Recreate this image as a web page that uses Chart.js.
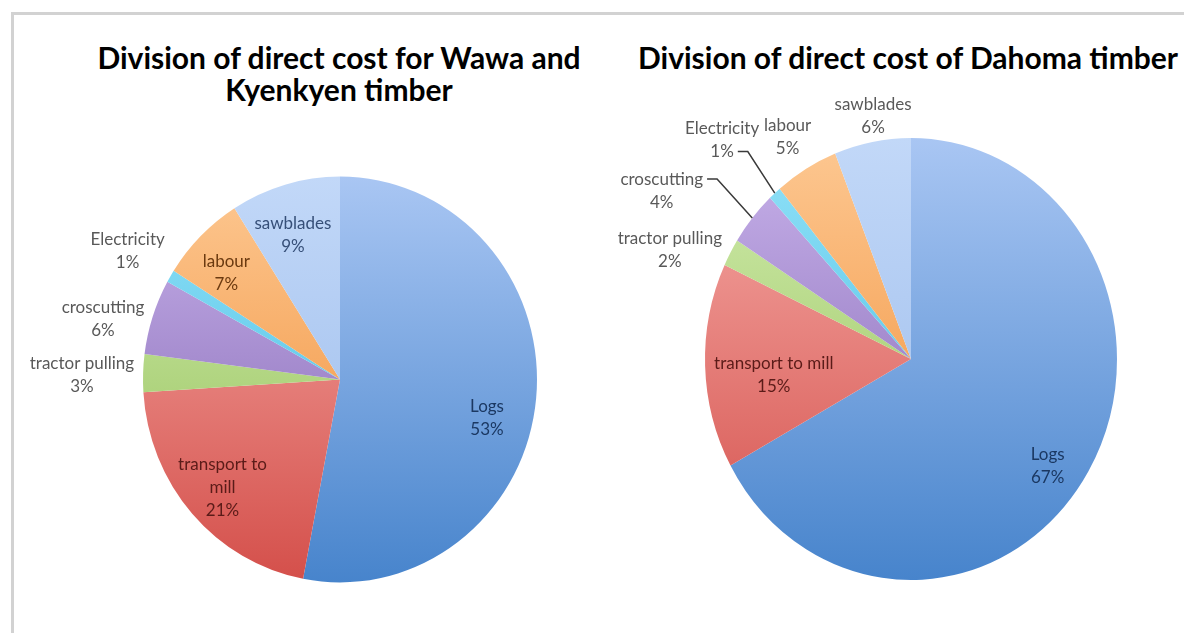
<!DOCTYPE html>
<html>
<head>
<meta charset="utf-8">
<script src="https://cdn.jsdelivr.net/npm/chart.js@4.4.0/dist/chart.umd.min.js"></script>
<style>
body{margin:0;background:#fff;width:1184px;height:633px;overflow:hidden;position:relative;font-family:Lato,sans-serif}
.frame{position:absolute;left:11px;top:12px;width:1200px;height:700px;border-top:3px solid #d2d2d2;border-left:3px solid #d2d2d2}
.title{position:absolute;font-weight:bold;font-size:30px;color:#000;text-align:center;line-height:32px;white-space:nowrap}
#t1{left:39px;width:600px;top:41px}
#t2{left:608px;width:600px;top:41px}
canvas{position:absolute;top:0}
#c1{left:0}
#c2{left:592px}
</style>
</head>
<body>
<div class="frame"></div>
<div class="title" id="t1">Division of direct cost for Wawa and<br>Kyenkyen timber</div>
<div class="title" id="t2">Division of direct cost of Dahoma timber</div>
<canvas id="c1" width="592" height="633"></canvas>
<canvas id="c2" width="592" height="633"></canvas>
<script>
// ---- data ----
const wawaCategories = ['Logs', 'transport to\nmill', 'tractor pulling', 'croscutting', 'Electricity', 'labour', 'sawblades'];
const wawaValues = [53, 21, 3, 6, 1, 7, 9];

const dahomaCategories = ['Logs', 'transport to mill', 'tractor pulling', 'croscutting', 'Electricity', 'labour', 'sawblades'];
const dahomaValues = [67, 15, 2, 4, 1, 5, 6];

// slice colours, light at top of the pie, darker at the bottom
const colorsTop = ['#a9c6f3', '#f6aca8', '#d3edb0', '#c9b3eb', '#92e2f8', '#fdc892', '#c2d8f8'];
const colorsBottom = ['#4784cc', '#d44f4a', '#8fbd52', '#7c5fae', '#3db6df', '#ef892f', '#98b9ea'];

// label layout (radius factor, angle shift in degrees)
const wawaLabelRadius = [0.77, 0.80, 1.31, 1.24, 1.25, 0.78, 0.75];
const wawaLabelShift = [8.9, -0.4, -0.8, -4, -0.2, -2.7, -2.4];
const wawaLabelColors = ['#1b3862', '#5a1b18', '#595959', '#595959', '#595959', '#6b3a10', '#364f78'];

const dahomaLabelRadius = [0.82, 0.67, 1.27, 1.43, 1.35, 1.17, 1.115];
const dahomaLabelShift = [5.4, -4.3, -6, -7.4, -1.4, -0.2, 1.3];
const dahomaLabelColors = ['#1b3862', '#5a1b18', '#595959', '#595959', '#595959', '#595959', '#595959'];
const dahomaLeader = [null, null, null, 0, 1, null, null];

// vertical gradient over the whole pie, picked per slice
const sliceFill = (c) => {
  const i = c.dataIndex;
  const chart = c.chart;
  const area = chart.chartArea;
  if (!area) return colorsBottom[i];
  const g = chart.ctx.createLinearGradient(0, area.top, 0, area.bottom);
  g.addColorStop(0, colorsTop[i]);
  g.addColorStop(1, colorsBottom[i]);
  return g;
};

// squash the circle a little into the ellipse seen in the picture
const pieShape = {
  id: 'pieShape',
  beforeDatasetsDraw(chart, args, opts) {
    const arc = chart.getDatasetMeta(0).data[0];
    const ctx = chart.ctx;
    ctx.save();
    ctx.translate(arc.x, arc.y);
    ctx.scale(1, opts.stretch);
    ctx.translate(-arc.x, -arc.y);
  },
  afterDatasetsDraw(chart) {
    chart.ctx.restore();
  }
};

const sliceLabels = {
  id: 'sliceLabels',
  afterDraw(chart, args, opts) {
    const ctx = chart.ctx;
    const arcs = chart.getDatasetMeta(0).data;
    const values = chart.data.datasets[0].data;
    const total = values.reduce((a, b) => a + b, 0);
    const st = chart.options.plugins.pieShape.stretch;
    ctx.save();
    ctx.font = '17px Lato';
    ctx.textAlign = 'center';
    ctx.textBaseline = 'middle';
    arcs.forEach((arc, i) => {
      const mid = (arc.startAngle + arc.endAngle) / 2;
      const a = mid + opts.shift[i] * Math.PI / 180;
      const r = arc.outerRadius * opts.radius[i];
      const x = arc.x + Math.cos(a) * r;
      const y = arc.y + Math.sin(a) * r * st;
      const lines = chart.data.labels[i].split('\n').concat(Math.round(values[i] / total * 100) + '%');
      const lh = 23;
      const y0 = y - (lines.length - 1) * lh / 2;
      ctx.fillStyle = opts.colors[i];
      lines.forEach((t, k) => ctx.fillText(t, x, y0 + k * lh));
      const lead = opts.leader ? opts.leader[i] : null;
      if (lead !== null && lead !== undefined) {
        const w = ctx.measureText(lines[lead]).width;
        const sx = x + w / 2 + 4, sy = y0 + lead * lh;
        const ex = arc.x + Math.cos(mid) * arc.outerRadius;
        const ey = arc.y + Math.sin(mid) * arc.outerRadius * st;
        ctx.beginPath();
        ctx.moveTo(sx, sy);
        ctx.lineTo(sx + 10, sy);
        ctx.lineTo(ex, ey);
        ctx.strokeStyle = '#3a3a3a';
        ctx.lineWidth = 1.5;
        ctx.stroke();
      }
    });
    ctx.restore();
  }
};

function makePie(id, labels, values, pad, stretch, lab) {
  return new Chart(document.getElementById(id), {
    type: 'pie',
    data: {
      labels: labels,
      datasets: [{
        data: values,
        backgroundColor: sliceFill,
        borderWidth: 0,
        hoverOffset: 0
      }]
    },
    options: {
      responsive: false,
      animation: false,
      layout: { padding: pad },
      plugins: {
        legend: { display: false },
        tooltip: { enabled: false },
        title: { display: false },
        pieShape: { stretch: stretch },
        sliceLabels: lab
      }
    },
    plugins: [pieShape, sliceLabels]
  });
}

makePie('c1', wawaCategories, wawaValues,
  { left: 143, right: 55, top: 182.5, bottom: 56.5 }, 1.03,
  { radius: wawaLabelRadius, shift: wawaLabelShift, colors: wawaLabelColors, leader: null });

makePie('c2', dahomaCategories, dahomaValues,
  { left: 113, right: 67, top: 153, bottom: 68 }, 1.073,
  { radius: dahomaLabelRadius, shift: dahomaLabelShift, colors: dahomaLabelColors, leader: dahomaLeader });
</script>
</body>
</html>
